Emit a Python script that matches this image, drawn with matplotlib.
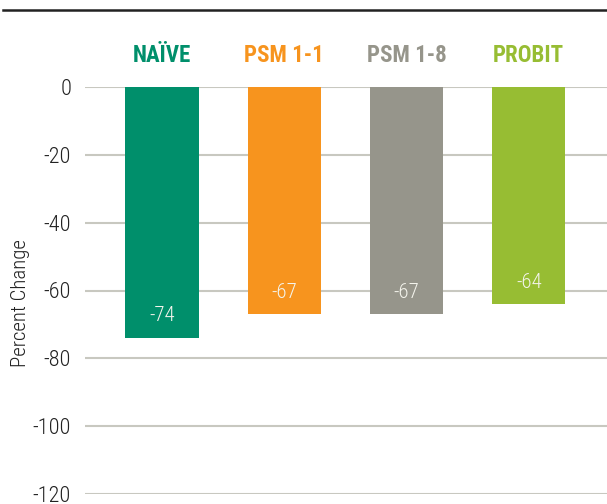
import numpy as np
import matplotlib
matplotlib.use("Agg")
import matplotlib.pyplot as plt
from matplotlib.lines import Line2D

categories = ["NAÏVE", "PSM 1-1", "PSM 1-8", "PROBIT"]
values = [-74, -67, -67, -64]
colors = ["#008F6B", "#F7941E", "#96958B", "#97BD33"]
yticks = [0, -20, -40, -60, -80, -100, -120]

plt.rcParams["font.family"] = ["Roboto Condensed", "DejaVu Sans"]

fig = plt.figure(figsize=(6.07, 5.04), dpi=100)
ax = fig.add_axes([85 / 607, 1 - 494 / 504, 1 - 85 / 607, (494 - 87) / 504])

x = np.arange(len(categories))
ax.bar(x, values, width=0.6, color=colors, zorder=3)

# value labels inside bars, near the bottom
for xi, v in zip(x, values):
    ax.text(xi, v + 6.5, f"{v}", ha="center", va="center", color="#F4F4EC",
            fontsize=15, fontweight="light", zorder=4)

# category names above the bars
for xi, cat, c in zip(x, categories, colors):
    ax.text(xi, 9.3, cat, ha="center", va="center", color=c,
            fontsize=16.5, fontweight="bold", clip_on=False)

ax.set_xlim(-0.63, 3.64)
ax.set_ylim(-120, 0)
ax.set_yticks(yticks)
ax.set_yticklabels([str(t) for t in yticks], fontsize=16, color="#222222",
                   fontweight="light")
ax.set_xticks([])
ax.tick_params(axis="y", length=0, pad=10)
ax.yaxis.grid(True, color="#C8C8C0", linewidth=1.5, zorder=0)
for s in ax.spines.values():
    s.set_visible(False)
ax.set_ylabel("Percent Change", fontsize=15, color="#222222", fontweight="light")
ax.yaxis.set_label_coords(-0.105, 0.47)

fig.add_artist(Line2D([3 / 607, 1.0], [1 - 10 / 504, 1 - 10 / 504],
                      color="#222222", linewidth=1.8))

fig.savefig("out.png", dpi=100)
